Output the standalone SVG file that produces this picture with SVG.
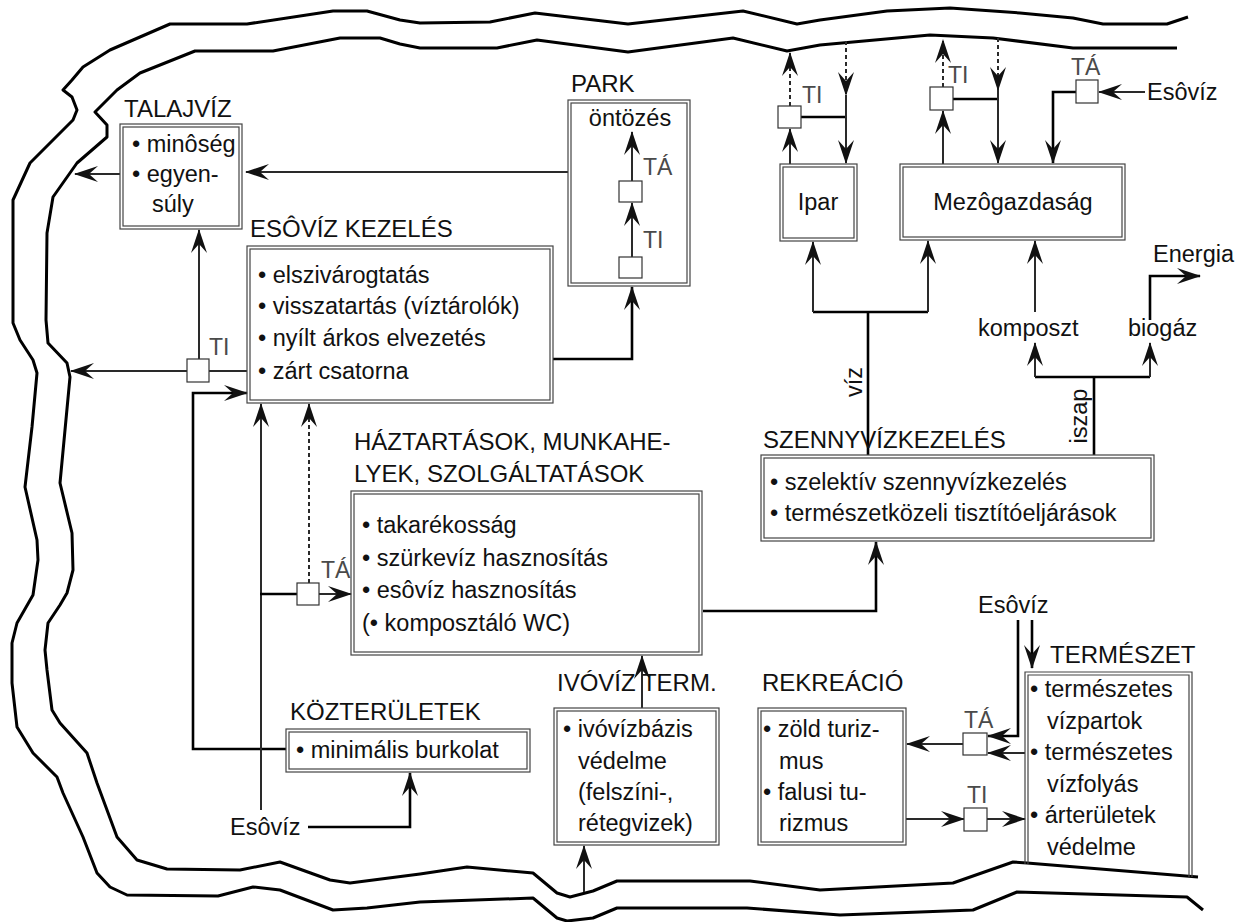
<svg xmlns="http://www.w3.org/2000/svg" width="1244" height="922" viewBox="0 0 1244 922">
<style>
  .t { font-family: "Liberation Sans", Arial, sans-serif; font-size: 23.5px; fill: #111; }
  .h { font-size: 24px; }
  .s { font-family: "Liberation Sans", Arial, sans-serif; font-size: 23px; fill: #4a4a4a; }
  .m { text-anchor: middle; }
  .o { fill: none; stroke: #444; stroke-width: 1.2; }
  .c { fill: none; stroke: #2a2a2a; stroke-width: 2; }
  .k { stroke: #000; stroke-width: 2.6; }
  .d { stroke-dasharray: 4 3; }
  .sb { fill: #fff; stroke: #333; stroke-width: 1.2; }
  .r { fill: none; stroke: #000; stroke-width: 3; stroke-linejoin: round; }
  .ar { marker-end: url(#a); }
</style>
<defs>
  <!-- barbed arrowhead shared by every connector -->
  <marker id="a" viewBox="-25 -9 26 18" refX="0" refY="0" markerWidth="26" markerHeight="18" markerUnits="userSpaceOnUse" orient="auto">
    <path d="M1,0 L-23,-8 L-14,0 L-23,8 Z" fill="#111"/>
  </marker>
</defs>
<rect width="1244" height="922" fill="#fff"/>

<!-- river banks around the settlement -->
<g id="river">
  <path class="r" d="M1188,17 L1167,24 L1103,24 L1073,18 L1020,13 L950,8 L887,11 L820,20 L797,24 L743,11 L628,24 L535,13 L490,22 L420,23 L400,20 L367,11 L333,11 L247,24 L170,24 L140,37 L110,50 L83,67 L72,80 L63,90 L72,97 L77,110 L73,120 L53,140 L30,163 L13,200 L13,323 L20,340 L33,360 L37,373 L32,427 L25,487 L37,540 L38,560 L33,595 L17,623 L12,643 L12,683 L17,727 L33,753 L57,777 L63,793 L83,837 L97,873 L110,887 L127,895 L218,896 L253,887 L280,890 L333,910 L367,908 L420,902 L533,898 L557,918 L567,921 L593,918 L617,908 L747,908 L840,915 L973,910 L1017,892 L1187,897 L1203,910"/>
  <path class="r" d="M1177,48 L1073,48 L993,38 L930,35 L820,45 L787,51 L733,38 L628,52 L537,40 L497,48 L420,48 L400,44 L380,38 L340,38 L273,51 L195,51 L140,73 L117,90 L95,112 L107,125 L107,137 L77,163 L53,197 L47,233 L46,320 L48,343 L67,363 L70,377 L60,483 L72,533 L73,570 L67,593 L60,605 L48,623 L45,650 L47,670 L52,710 L60,723 L87,753 L97,783 L117,837 L137,860 L167,869 L240,870 L280,862 L330,880 L350,883 L420,874 L467,867 L533,873 L557,893 L570,897 L593,891 L617,881 L750,881 L820,890 L953,883 L1013,862 L1027,863 L1198,877"/>
</g>

<!-- connectors -->
<g id="connectors">
  <path class="c ar" d="M120,174 H75"/>
  <path class="c ar" d="M568,172 H246"/>
  <path class="c ar" d="M199,359 V230"/>
  <path class="c" d="M247,371 H209"/>
  <path class="c ar" d="M187,371 H71"/>
  <path class="c k ar" d="M553,359 H632 V287"/>
  <path class="c ar" d="M632,257 V203"/>
  <path class="c ar" d="M632,181 V132"/>
  <path class="c k ar" d="M286,749 H193 V393 H247"/>
  <path class="c ar" d="M261,810 V404"/>
  <path class="c k" d="M260,594 H297"/>
  <path class="c ar" d="M319,594 H351"/>
  <path class="c d ar" d="M309,583 V404"/>
  <path class="c k ar" d="M308,827 H410 V773"/>
  <path class="c ar" d="M642,708 V656"/>
  <path class="c ar" d="M584,892 V846"/>
  <path class="c k ar" d="M703,611 H876 V542"/>
  <path class="c k" d="M868,455 V312"/>
  <path class="c k" d="M813,312 H928"/>
  <path class="c ar" d="M813,312 V242"/>
  <path class="c ar" d="M928,312 V241"/>
  <path class="c k" d="M1094,455 V377"/>
  <path class="c k" d="M1035,377 H1150"/>
  <path class="c ar" d="M1035,377 V343"/>
  <path class="c ar" d="M1150,377 V343"/>
  <path class="c ar" d="M1035,312 V241"/>
  <path class="c k ar" d="M1150,320 V276 H1200"/>
  <path class="c ar" d="M790,164 V129"/>
  <path class="c d ar" d="M790,106 V53"/>
  <path class="c k" d="M801,117 H846"/>
  <path class="c d ar" d="M846,41 V95"/>
  <path class="c ar" d="M846,95 V163"/>
  <path class="c ar" d="M943,164 V111"/>
  <path class="c d ar" d="M943,87 V40"/>
  <path class="c k" d="M953,99 H998"/>
  <path class="c d ar" d="M998,38 V90"/>
  <path class="c ar" d="M998,90 V163"/>
  <path class="c ar" d="M1145,92 H1099"/>
  <path class="c k ar" d="M1076,92 H1053 V163"/>
  <path class="c k ar" d="M1018,620 V736 H988"/>
  <path class="c k ar" d="M1032,620 V668"/>
  <path class="c ar" d="M1025,753 H988"/>
  <path class="c ar" d="M963,744 H907"/>
  <path class="c ar" d="M906,819 H964"/>
  <path class="c ar" d="M987,819 H1025"/>
  <!-- control points (TI / TÁ) -->
  <rect class="sb" x="187" y="359" width="22" height="23"/>
  <rect class="sb" x="619" y="257" width="23" height="21"/>
  <rect class="sb" x="619" y="181" width="23" height="21"/>
  <rect class="sb" x="297" y="583" width="22" height="22"/>
  <rect class="sb" x="778" y="106" width="23" height="22"/>
  <rect class="sb" x="930" y="87" width="23" height="23"/>
  <rect class="sb" x="1076" y="80" width="22" height="23"/>
  <rect class="sb" x="963" y="733" width="24" height="22"/>
  <rect class="sb" x="964" y="808" width="23" height="23"/>
  <text class="s" x="209" y="355">TI</text>
  <text class="s" x="643" y="175">TÁ</text>
  <text class="s" x="643" y="248">TI</text>
  <text class="s" x="321" y="578">TÁ</text>
  <text class="s" x="802" y="103">TI</text>
  <text class="s" x="948" y="83">TI</text>
  <text class="s" x="1071" y="75">TÁ</text>
  <text class="s" x="964" y="728">TÁ</text>
  <text class="s" x="967" y="803">TI</text>
  <text class="t" transform="translate(862,382) rotate(-90)" text-anchor="middle">víz</text>
  <text class="t" transform="translate(1087,416) rotate(-90)" text-anchor="middle">iszap</text>
</g>

<g id="talajviz">
  <text class="t h" x="124" y="117">TALAJVÍZ</text>
  <rect class="o" x="120" y="124" width="122" height="105"/>
  <rect class="o" x="123" y="127" width="116" height="99"/>
  <text class="t" x="132" y="152">• minôség</text>
  <text class="t" x="132" y="182">• egyen-</text>
  <text class="t" x="152" y="212">súly</text>
</g>

<g id="esoviz-kezeles">
  <text class="t h" x="250" y="237">ESÔVÍZ KEZELÉS</text>
  <rect class="o" x="247" y="246" width="306" height="157"/>
  <rect class="o" x="250" y="249" width="300" height="151"/>
  <text class="t" x="258" y="283">• elszivárogtatás</text>
  <text class="t" x="258" y="314">• visszatartás (víztárolók)</text>
  <text class="t" x="258" y="346">• nyílt árkos elvezetés</text>
  <text class="t" x="258" y="379">• zárt csatorna</text>
</g>

<g id="park">
  <text class="t h" x="571" y="92">PARK</text>
  <rect class="o" x="568" y="100" width="122" height="186"/>
  <rect class="o" x="571" y="103" width="116" height="180"/>
  <text class="t m" x="630" y="126">öntözés</text>
</g>

<g id="ipar">
  <rect class="o" x="780" y="164" width="77" height="77"/>
  <rect class="o" x="783" y="167" width="71" height="71"/>
  <text class="t m" x="818" y="210">Ipar</text>
</g>

<g id="mezogazdasag">
  <rect class="o" x="900" y="164" width="225" height="76"/>
  <rect class="o" x="903" y="167" width="219" height="70"/>
  <text class="t m" x="1013" y="210">Mezôgazdaság</text>
</g>

<g id="esoviz-top">
  <text class="t" x="1147" y="100">Esôvíz</text>
</g>

<g id="komposzt">
  <text class="t" x="978" y="336">komposzt</text>
</g>

<g id="biogaz">
  <text class="t" x="1128" y="336">biogáz</text>
</g>

<g id="energia">
  <text class="t" x="1153" y="262">Energia</text>
</g>

<g id="szennyviz">
  <text class="t h" x="763" y="448">SZENNYVÍZKEZELÉS</text>
  <rect class="o" x="761" y="455" width="393" height="86"/>
  <rect class="o" x="764" y="458" width="387" height="80"/>
  <text class="t" x="770" y="490">• szelektív szennyvízkezelés</text>
  <text class="t" x="770" y="521">• természetközeli tisztítóeljárások</text>
</g>

<g id="haztartasok">
  <text class="t h" x="354" y="450">HÁZTARTÁSOK, MUNKAHE-</text>
  <text class="t h" x="354" y="482">LYEK, SZOLGÁLTATÁSOK</text>
  <rect class="o" x="351" y="491" width="351" height="164"/>
  <rect class="o" x="354" y="494" width="345" height="158"/>
  <text class="t" x="362" y="533">• takarékosság</text>
  <text class="t" x="362" y="566">• szürkevíz hasznosítás</text>
  <text class="t" x="362" y="598">• esôvíz hasznosítás</text>
  <text class="t" x="362" y="631">(• komposztáló WC)</text>
</g>

<g id="kozteruletek">
  <text class="t h" x="290" y="720">KÖZTERÜLETEK</text>
  <rect class="o" x="286" y="729" width="244" height="43"/>
  <rect class="o" x="289" y="732" width="238" height="37"/>
  <text class="t" x="296" y="758">• minimális burkolat</text>
</g>

<g id="esoviz-bottom">
  <text class="t" x="230" y="835">Esôvíz</text>
</g>

<g id="ivoviz">
  <text class="t h" x="557" y="691">IVÓVÍZ TERM.</text>
  <rect class="o" x="554" y="708" width="165" height="137"/>
  <rect class="o" x="557" y="711" width="159" height="131"/>
  <text class="t" x="563" y="737">• ivóvízbázis</text>
  <text class="t" x="578" y="769">védelme</text>
  <text class="t" x="578" y="800">(felszíni-,</text>
  <text class="t" x="578" y="831">rétegvizek)</text>
</g>

<g id="rekreacio">
  <text class="t h" x="762" y="691">REKREÁCIÓ</text>
  <rect class="o" x="758" y="708" width="148" height="137"/>
  <rect class="o" x="761" y="711" width="142" height="131"/>
  <text class="t" x="763" y="737">• zöld turiz-</text>
  <text class="t" x="779" y="769">mus</text>
  <text class="t" x="763" y="800">• falusi tu-</text>
  <text class="t" x="779" y="831">rizmus</text>
</g>

<g id="esoviz-right">
  <text class="t" x="978" y="613">Esôvíz</text>
</g>

<g id="termeszet">
  <text class="t h" x="1050" y="663">TERMÉSZET</text>
  <path class="o" d="M1025,864 V672 H1192 V877"/>
  <path class="o" d="M1028,864 V675 H1189 V877"/>
  <text class="t" x="1030" y="697">• természetes</text>
  <text class="t" x="1047" y="729">vízpartok</text>
  <text class="t" x="1030" y="760">• természetes</text>
  <text class="t" x="1047" y="792">vízfolyás</text>
  <text class="t" x="1030" y="823">• árterületek</text>
  <text class="t" x="1047" y="855">védelme</text>
</g>
</svg>
